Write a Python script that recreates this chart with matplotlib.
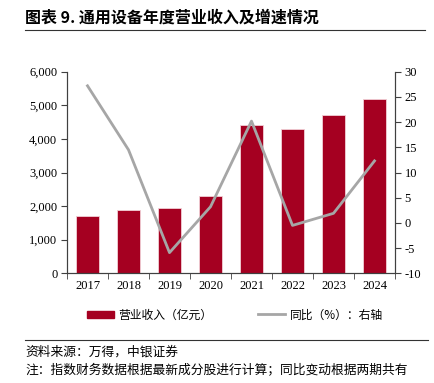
import matplotlib
matplotlib.use("Agg")
import matplotlib.pyplot as plt
import numpy as np
from matplotlib.lines import Line2D
from matplotlib.patches import Patch

plt.rcParams["font.family"] = ["Noto Sans CJK SC", "DejaVu Sans"]

years = ["2017", "2018", "2019", "2020", "2021", "2022", "2023", "2024"]
revenue = [1705, 1875, 1935, 2290, 4405, 4305, 4710, 5190]  # 亿元
yoy = [27.2, 14.5, -5.9, 3.2, 20.2, -0.5, 1.9, 12.3]  # %

BAR_COLOR = "#A50021"
LINE_COLOR = "#A6A6A6"
AXIS_COLOR = "#404040"
NUM_FONT = "Liberation Serif"

fig = plt.figure(figsize=(4.35, 3.83), dpi=100)
ax = fig.add_axes([67 / 435, 1 - 273.3 / 383, 328 / 435, 201.6 / 383])
ax2 = ax.twinx()

x = np.arange(len(years))
ax.bar(x, revenue, width=0.55, color=BAR_COLOR, edgecolor="#F2D0D6", linewidth=0.6, zorder=2)
ax2.plot(x, yoy, color=LINE_COLOR, linewidth=2.0, zorder=3)

ax.set_xlim(-0.5, len(years) - 0.5)
ax.set_ylim(0, 6000)
ax.set_yticks(np.arange(0, 6001, 1000))
ax.set_yticklabels([f"{v:,}" for v in range(0, 6001, 1000)], fontfamily=NUM_FONT, fontsize=9)
ax2.set_ylim(-10, 30)
ax2.set_yticks(np.arange(-10, 31, 5))
ax2.set_yticklabels([str(v) for v in range(-10, 31, 5)], fontfamily=NUM_FONT, fontsize=9)

ax.set_xticks(x)
ax.set_xticklabels(years, fontfamily=NUM_FONT, fontsize=9)
ax.set_xticks(np.arange(-0.5, len(years), 1), minor=True)
ax.tick_params(axis="x", which="major", length=0, pad=5)
ax.tick_params(axis="x", which="minor", length=4, direction="out", color=AXIS_COLOR)
ax.tick_params(axis="y", length=4, direction="out", color=AXIS_COLOR, pad=3)
ax2.tick_params(axis="y", length=4, direction="out", color=AXIS_COLOR, pad=3)

for a in (ax, ax2):
    a.spines["top"].set_visible(False)
    for s in ("left", "right", "bottom"):
        a.spines[s].set_color(AXIS_COLOR)
        a.spines[s].set_linewidth(0.8)

# title and rules
fig.text(25 / 435, 1 - 18 / 383, "图表 9. 通用设备年度营业收入及增速情况", fontsize=11.5,
         fontweight="bold", va="center", ha="left")
fig.add_artist(Line2D([25 / 435, 425 / 435], [1 - 30 / 383] * 2, color="#333333", linewidth=0.8))

# legend, two separate entries
leg_y = 1 - 315 / 383
leg1 = fig.legend([Patch(facecolor=BAR_COLOR, edgecolor=BAR_COLOR)], ["营业收入（亿元）"],
                  loc="center left", bbox_to_anchor=(76 / 435, leg_y), frameon=False, fontsize=8.5,
                  handlelength=2.3, handleheight=0.55, handletextpad=0.4)
fig.legend([Line2D([0], [0], color=LINE_COLOR, linewidth=2.0)], ["同比（%）：右轴"],
           loc="center left", bbox_to_anchor=(247 / 435, leg_y), frameon=False, fontsize=8.5,
           handlelength=2.3, handletextpad=0.4)

fig.add_artist(Line2D([25 / 435, 428 / 435], [1 - 340 / 383] * 2, color="#333333", linewidth=0.8))
fig.text(25 / 435, 1 - 352 / 383, "资料来源：万得，中银证券", fontsize=9.2, style="italic",
         va="center", ha="left")
fig.text(25 / 435, 1 - 370 / 383, "注：指数财务数据根据最新成分股进行计算；同比变动根据两期共有",
         fontsize=9.2, style="italic", va="center", ha="left")

fig.savefig("out.png", dpi=100)
